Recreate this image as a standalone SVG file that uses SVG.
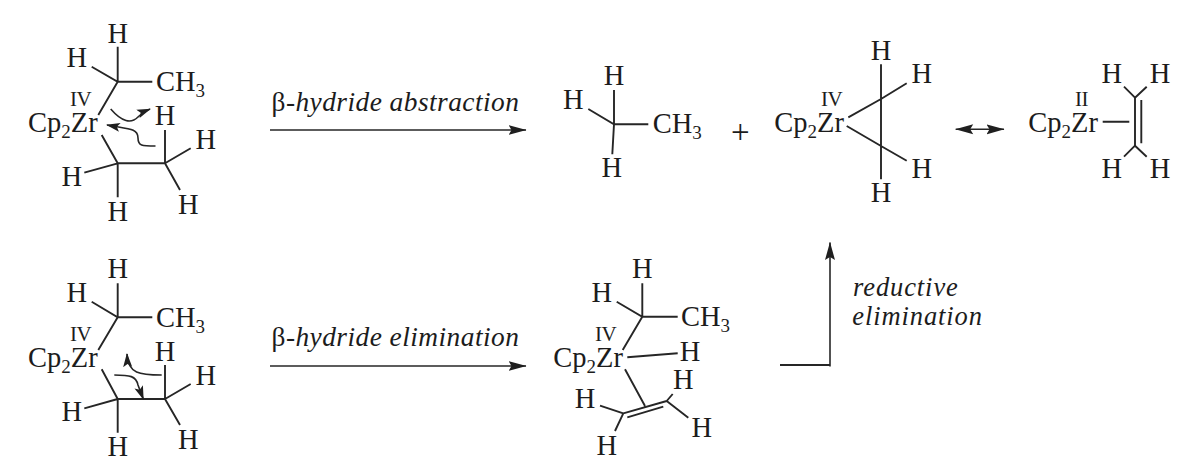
<svg xmlns="http://www.w3.org/2000/svg" width="1203" height="475" viewBox="0 0 1203 475">
<style>
text{font-family:"Liberation Serif","Times New Roman",serif;fill:#1c1c1c;font-size:28.5px}
.h{text-anchor:middle}
.ox{font-size:21px;letter-spacing:-.5px}
.lab{font-size:27.4px;letter-spacing:.45px}
.lab2{font-size:26.5px;letter-spacing:.9px;font-style:italic}
.i{font-style:italic}
.sub{font-size:19px}
.plus{font-size:33px}
.b{stroke:#262626;stroke-width:1.9;fill:none;stroke-linecap:butt}
.a{stroke:#262626;stroke-width:1.6;fill:none}
.ar{marker-end:url(#head)}
.cu{marker-end:url(#chead)}
</style>
<defs>
<marker id="head" markerUnits="userSpaceOnUse" markerWidth="19" markerHeight="12" refX="17.5" refY="6" orient="auto"><path d="M0,1 L18,6 L0,11 L3,6 Z" fill="#1f1f1f"/></marker>
<marker id="headS" markerUnits="userSpaceOnUse" markerWidth="19" markerHeight="12" refX="0.5" refY="6" orient="auto"><path d="M18,1 L0,6 L18,11 L15,6 Z" fill="#1f1f1f"/></marker>
<marker id="chead" markerUnits="userSpaceOnUse" markerWidth="15" markerHeight="12" refX="13" refY="5" orient="auto"><path d="M0,0.5 L14,5 L0,9.5 L3,5 Z" fill="#1f1f1f"/></marker>
</defs>

<g id="connectors">
<path class="a ar" d="M270,130H526"/>
<path class="a ar" d="M270,366H526"/>
<path class="b" d="M780,365H830"/>
<path class="a ar" d="M830,366.5V242.5"/>
<path class="a" d="M955.7,129.3H1004" marker-start="url(#headS)" marker-end="url(#head)"/>
</g>

<g id="complex-top">
<path class="b" d="M117.7,46.7V81.7M91.7,66.7L117.7,81.7H152.3M117.7,81.7L98.3,115M101.7,135L117.7,163.3H165V130M165,163.3L190.7,148.3M165,163.3L180,190M117.7,163.3L84.3,172.7M117.7,163.3V197.3"/>
<path class="a cu" d="M110.7,109C122,122 131,124 138,117C142,113 145,111 150,109"/>
<path class="a cu" d="M155.5,146C142,146 138,146 138,138C138,128 128,129 107,125"/>
<text class="h" x="117.7" y="43">H</text><text class="h" x="76.7" y="66.7">H</text>
<text x="156" y="91">CH<tspan class="sub" dy="6">3</tspan></text>
<text class="ox" x="70" y="106">IV</text>
<text x="28" y="131.7">Cp<tspan class="sub" dy="6">2</tspan><tspan dy="-6">Zr</tspan></text>
<text class="h" x="165" y="125">H</text><text class="h" x="205.7" y="149.3">H</text><text class="h" x="188.3" y="214.3">H</text><text class="h" x="71.7" y="185.7">H</text><text class="h" x="117.7" y="220.7">H</text>
</g>

<g id="complex-bottom">
<path class="b" d="M117.7,283.3V317.3M91.7,301.7L117.7,317.3H152.3M117.7,317.3L98.3,350M101.7,369.3L117.7,399H165V365M165,399L190.7,384M165,399L180,425M117.7,399L84.3,408.3M117.7,399V432.7"/>
<path class="a cu" d="M161.7,375C140,375 128,374 127,354"/>
<path class="a cu" d="M114.3,375C130,375 136,376 138,385L143.3,399"/>
<text class="h" x="117.7" y="278.3">H</text><text class="h" x="76.7" y="302.3">H</text>
<text x="156" y="326.7">CH<tspan class="sub" dy="6">3</tspan></text>
<text class="ox" x="70" y="341">IV</text>
<text x="28" y="367.3">Cp<tspan class="sub" dy="6">2</tspan><tspan dy="-6">Zr</tspan></text>
<text class="h" x="165" y="360.7">H</text><text class="h" x="205.7" y="385">H</text><text class="h" x="188.3" y="449.3">H</text><text class="h" x="71.7" y="420.7">H</text><text class="h" x="117.7" y="456">H</text>
</g>

<g id="ethane">
<path class="b" d="M614,90V124.3M588.3,109L614,124.3H648.3M614,124.3L612.3,154.3"/>
<text class="h" x="614" y="85">H</text><text class="h" x="573.3" y="109.3">H</text><text class="h" x="611.7" y="177.3">H</text>
<text x="652.7" y="133.3">CH<tspan class="sub" dy="6">3</tspan></text>
</g>

<g id="plus"><text class="h plus" x="740.3" y="143">+</text></g>

<g id="zirconacyclopropane">
<path class="b" d="M848.3,117.3L881,99M846.7,126L881,146M881,64.3V179.3M881,99L906.7,83.3M881,146L906.7,160.7"/>
<text x="774.3" y="131.7">Cp<tspan class="sub" dy="6">2</tspan><tspan dy="-6">Zr</tspan></text>
<text class="ox" x="821" y="106">IV</text>
<text class="h" x="881" y="60">H</text><text class="h" x="921.7" y="83.3">H</text><text class="h" x="921.7" y="178.3">H</text><text class="h" x="881" y="201.7">H</text>
</g>

<g id="alkene-complex">
<path class="b" d="M1102.7,121.7H1129.3M1135,97.7V145.7M1141.3,100V143.3M1135,97.7L1124,86.7M1135,97.7L1146.7,86.7M1135,145.7L1124,156.7M1135,145.7L1146.7,156.7"/>
<text x="1028.3" y="131.7">Cp<tspan class="sub" dy="6">2</tspan><tspan dy="-6">Zr</tspan></text>
<text class="ox" x="1075" y="106">II</text>
<text class="h" x="1111.7" y="83.3">H</text><text class="h" x="1160" y="83.3">H</text><text class="h" x="1111.7" y="178.3">H</text><text class="h" x="1160" y="178.3">H</text>
</g>

<g id="hydride-complex">
<path class="b" d="M642.3,283.3V316.7M616.7,301.7L642.3,316.7H677.7M642.3,316.7L622.7,350M627.3,357.3L677.7,353.3M625,369.3L645,406M623.3,413.3L666.7,401M627.3,417.3L663.3,406.7M600,405.7L623.3,413.3M623.3,413.3L615,431M666.7,401L672.7,394M666.7,401L688.3,417.7"/>
<text class="h" x="642.3" y="278.3">H</text><text class="h" x="601.7" y="302.3">H</text>
<text x="681" y="325.7">CH<tspan class="sub" dy="6">3</tspan></text>
<text class="ox" x="595" y="340.7">IV</text>
<text x="553.3" y="367.3">Cp<tspan class="sub" dy="6">2</tspan><tspan dy="-6">Zr</tspan></text>
<text class="h" x="690" y="360.7">H</text><text class="h" x="585" y="408.3">H</text><text class="h" x="606.7" y="455">H</text><text class="h" x="683.3" y="389.3">H</text><text class="h" x="701.7" y="437.3">H</text>
</g>

<g id="labels">
<text class="lab" x="271.5" y="111">β-<tspan class="i">hydride abstraction</tspan></text>
<text class="lab" x="271.5" y="346">β-<tspan class="i">hydride elimination</tspan></text>
<text class="lab2" x="853" y="295.7">reductive</text>
<text class="lab2" x="852.3" y="325">elimination</text>
</g>
</svg>
